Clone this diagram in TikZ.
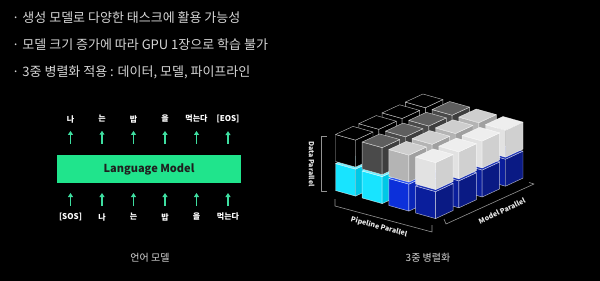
\documentclass[tikz,border=0pt]{standalone}
\usepackage{fontspec}
\setmainfont{Noto Sans CJK KR}
\usepackage{tikz}
\usetikzlibrary{arrows.meta,calc,positioning}
\definecolor{lmg}{RGB}{32,228,140}
\definecolor{arg}{RGB}{62,222,160}
\definecolor{txg}{RGB}{214,214,214}
% cube faces: top / front / side, one set per pipeline stage
\definecolor{topotl}{RGB}{0,0,0}      \definecolor{frontotl}{RGB}{0,0,0}      \definecolor{sideotl}{RGB}{0,0,0}
\definecolor{topdkg}{RGB}{94,94,94}   \definecolor{frontdkg}{RGB}{74,74,74}   \definecolor{sidedkg}{RGB}{62,62,62}
\definecolor{topltg}{RGB}{206,206,206}\definecolor{frontltg}{RGB}{180,180,180}\definecolor{sideltg}{RGB}{160,160,160}
\definecolor{topwht}{RGB}{238,238,238}\definecolor{frontwht}{RGB}{226,226,226}\definecolor{sidewht}{RGB}{208,208,208}
\definecolor{topcyn}{RGB}{110,240,255}\definecolor{frontcyn}{RGB}{24,228,255} \definecolor{sidecyn}{RGB}{0,200,230}
\definecolor{topblu}{RGB}{40,80,240}  \definecolor{frontblu}{RGB}{12,48,218}  \definecolor{sideblu}{RGB}{10,38,184}
\definecolor{topnvy}{RGB}{26,48,180}  \definecolor{frontnvy}{RGB}{10,30,156}  \definecolor{sidenvy}{RGB}{10,26,132}

\begin{document}
\begin{tikzpicture}[x=1pt,y=-1pt,line join=round,
  tok/.style={font=\bfseries\fontsize{8}{8}\selectfont,text=white,inner sep=1pt},
  up/.style={-{Triangle[width=5pt,length=4pt]},line width=1.4pt,draw=arg},
  brk/.style={draw=gray!85!white,line width=0.6pt},
  axl/.style={font=\bfseries\fontsize{7}{7}\selectfont,text=white!92!black,inner sep=0pt},
  ttl/.style={font=\fontsize{13}{13}\selectfont,text=txg,anchor=west,inner sep=0pt},
  captxt/.style={font=\fontsize{10}{10}\selectfont,text=txg,inner sep=0pt},
  edg/.style={draw=white,draw opacity=0.7,line width=0.45pt}]
  \fill[black] (0,0) rectangle (600,281);
  \useasboundingbox (0,0) rectangle (600,281);

  % bullet lines
  \node[ttl] (t1) at (12,18) {·\hspace{3pt}생성 모델로 다양한 태스크에 활용 가능성};
  \node[ttl] (t2) at (12,45) {·\hspace{3pt}모델 크기 증가에 따라 GPU 1장으로 학습 불가};
  \node[ttl] (t3) at (12,72) {·\hspace{3pt}3중 병렬화 적용 : 데이터, 모델, 파이프라인};

  % language model
  \node[fill=lmg,minimum width=183.4pt,minimum height=27.7pt,inner sep=0pt,
        font=\bfseries\fontsize{11}{11}\selectfont,text=black!88] (lm) at (149,169) {Language Model};
  \foreach \i/\a/\b in {0/[SOS]/나,1/나/는,2/는/밥,3/밥/을,4/을/먹는다,5/먹는다/[EOS]} {
    \node[tok] (in\i) at (70.5+31.5*\i,217) {\a};
    \node[tok] (out\i) at (70.5+31.5*\i,119) {\b};
    \draw[up,shorten <=6pt,shorten >=10pt] (in\i.north) -- (in\i.north |- lm.south);
    \draw[up,shorten <=11pt,shorten >=7pt] (lm.north -| out\i.south) -- (out\i.south);
  }
  \node[captxt] (c1) at (150,258) {언어 모델};

  % 3D parallelism block
  \foreach \m in {3,2,1,0} {
    \foreach \p/\lo/\hi in {0/cyn/otl,1/cyn/dkg,2/blu/ltg,3/nvy/wht} {
      \foreach \l/\c in {1/\lo,0/\hi} {
        \coordinate (o) at ($(335.5,134.5)+\p*(26.7,7.5)+\m*(23.3,-10.8)+\l*(0,29)$);
        \filldraw[fill=front\c,edg] (o) -- ++(20,5.6) -- ++(0,27) -- ++(-20,-5.6) -- cycle;
        \filldraw[fill=side\c,edg] ($(o)+(20,5.6)$) -- ++(17.5,-8.1) -- ++(0,27) -- ++(-17.5,8.1) -- cycle;
        \filldraw[fill=top\c,edg] (o) -- ++(20,5.6) -- ++(17.5,-8.1) -- ++(-20,-5.6) -- cycle;
      }
    }
  }
  \draw[brk] (326.5,136) -- (321.5,136) -- (321.5,191) -- (326.5,191);
  \node[axl,rotate=-90] (dp) at (311.5,164) {Data Parallel};
  \draw[brk] (335,199) -- (335,206) -- (432,232) -- (432,225);
  \node[axl,rotate=-15] (pp) at (379,227) {Pipeline Parallel};
  \draw[brk] (444,219) -- (446,224) -- (534,184) -- (529,182.5);
  \node[axl,rotate=24.7] (mp) at (502,211) {Model Parallel};
  \node[captxt] (c2) at (428,258) {3중 병렬화};
\end{tikzpicture}
\end{document}
